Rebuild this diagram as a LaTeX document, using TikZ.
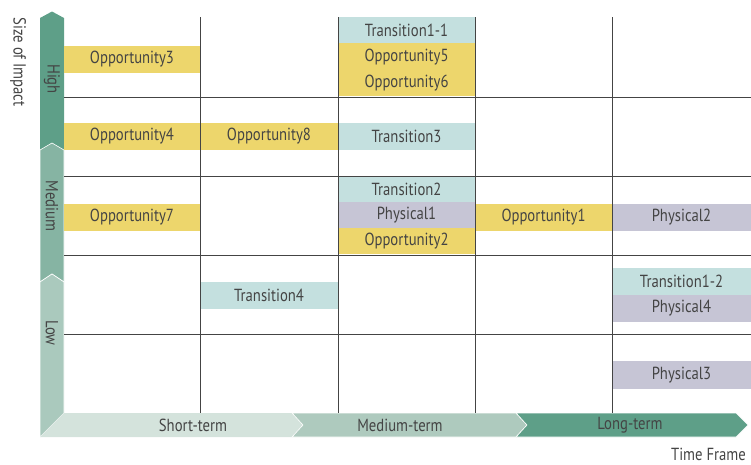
\documentclass[tikz,border=0pt]{standalone}
\usepackage{fontspec}
\setmainfont{PT Sans}[FakeStretch=0.84]
\definecolor{gHigh}{HTML}{5E9F88}
\definecolor{gMed}{HTML}{86B4A3}
\definecolor{gLow}{HTML}{AAC9BD}
\definecolor{bShort}{HTML}{D4E3DC}
\definecolor{bMed}{HTML}{AECABE}
\definecolor{bLong}{HTML}{5E9F88}
\definecolor{cYel}{HTML}{EDD66C}
\definecolor{cTeal}{HTML}{C4E0DF}
\definecolor{cGray}{HTML}{C6C5D5}
\definecolor{txt}{HTML}{444444}
\definecolor{gridc}{HTML}{444444}
\tikzset{
  cell/.style={inner sep=0pt, outer sep=0pt, text=txt, font=\fontsize{17.5}{19}\selectfont, minimum height=26.3},
  opp/.style={cell, fill=cYel},
  trans/.style={cell, fill=cTeal},
  phys/.style={cell, fill=cGray},
  seg/.style={draw=white, line width=0.6pt},
  axlab/.style={text=txt, font=\fontsize{17.5}{19}\selectfont, inner sep=0pt},
  gridl/.style={draw=gridc, line width=0.9pt}
}
\begin{document}
\begin{tikzpicture}[x=1pt,y=-1pt]
\useasboundingbox (0,0) rectangle (751,464);
% vertical axis
\fill[gHigh] (40,18) -- (52,11.5) -- (64,18) -- (64,150) -- (52,143) -- (40,150) -- cycle;
\draw[seg, fill=gMed] (40,150) -- (52,143) -- (64,150) -- (64,282) -- (52,274) -- (40,282) -- cycle;
\draw[seg, fill=gLow] (40,282) -- (52,274) -- (64,282) -- (64,413) -- (40,437) -- cycle;
% horizontal axis
\fill[bShort] (40,437) -- (64,413) -- (292,413) -- (303,425) -- (292,437) -- cycle;
\draw[seg, fill=bMed] (292,413) -- (516,413) -- (527,425) -- (516,437) -- (292,437) -- (303,425) -- cycle;
\draw[seg, fill=bLong] (516,413) -- (736,413) -- (748,425) -- (736,437) -- (516,437) -- (527,425) -- cycle;
% axis labels
\node[axlab, rotate=-90] (lhigh) at (52,79) {High};
\node[axlab, rotate=-90] (lmed) at (52,206) {Medium};
\node[axlab, rotate=-90] (llow) at (52,333) {Low};
\node[axlab] (lshort) at (193,425) {Short-term};
\node[axlab] (lmedt) at (400,425) {Medium-term};
\node[axlab] (llong) at (630,425) {Long-term};
\node[axlab, rotate=-90] (ysize) at (18,62) {Size of Impact};
\node[axlab, anchor=east] (xtime) at (746,454) {Time Frame};
% boxes
\node[opp, minimum width=136, minimum height=26.5] (op3) at (132,59.3) {Opportunity3};
\node[opp, minimum width=136] (op4) at (132,136.4) {Opportunity4};
\node[opp, minimum width=138] (op8) at (269,136.4) {Opportunity8};
\node[trans, minimum width=137] (tr3) at (406.5,136.4) {Transition3};
\node[trans, minimum width=137] (tr11) at (406.5,30.4) {Transition1-1};
\node[opp, minimum width=137] (op5) at (406.5,56.6) {Opportunity5};
\node[opp, minimum width=137] (op6) at (406.5,82.9) {Opportunity6};
\node[trans, minimum width=137, minimum height=26] (tr2) at (406.5,189) {Transition2};
\node[phys, minimum width=137, minimum height=26] (ph1) at (406.5,215) {Physical1};
\node[opp, minimum width=137, minimum height=26] (op2) at (406.5,241) {Opportunity2};
\node[opp, minimum width=136, minimum height=27] (op7) at (132,217) {Opportunity7};
\node[opp, minimum width=137, minimum height=27] (op1) at (543.5,217) {Opportunity1};
\node[phys, minimum width=139, minimum height=27] (ph2) at (681.5,217) {Physical2};
\node[trans, minimum width=138, minimum height=27] (tr4) at (269,295.5) {Transition4};
\node[trans, minimum width=139, minimum height=27] (tr12) at (681.5,281.5) {Transition1-2};
\node[phys, minimum width=139, minimum height=26.7] (ph4) at (681.5,308.4) {Physical4};
\node[phys, minimum width=139, minimum height=28] (ph3) at (681.5,375) {Physical3};
% grid
\foreach \yy in {97,176,255,334} \draw[gridl] (64,\yy) -- (751,\yy);
\foreach \xx in {200,338,475,612} \draw[gridl] (\xx,17) -- (\xx,413);
\end{tikzpicture}
\end{document}
